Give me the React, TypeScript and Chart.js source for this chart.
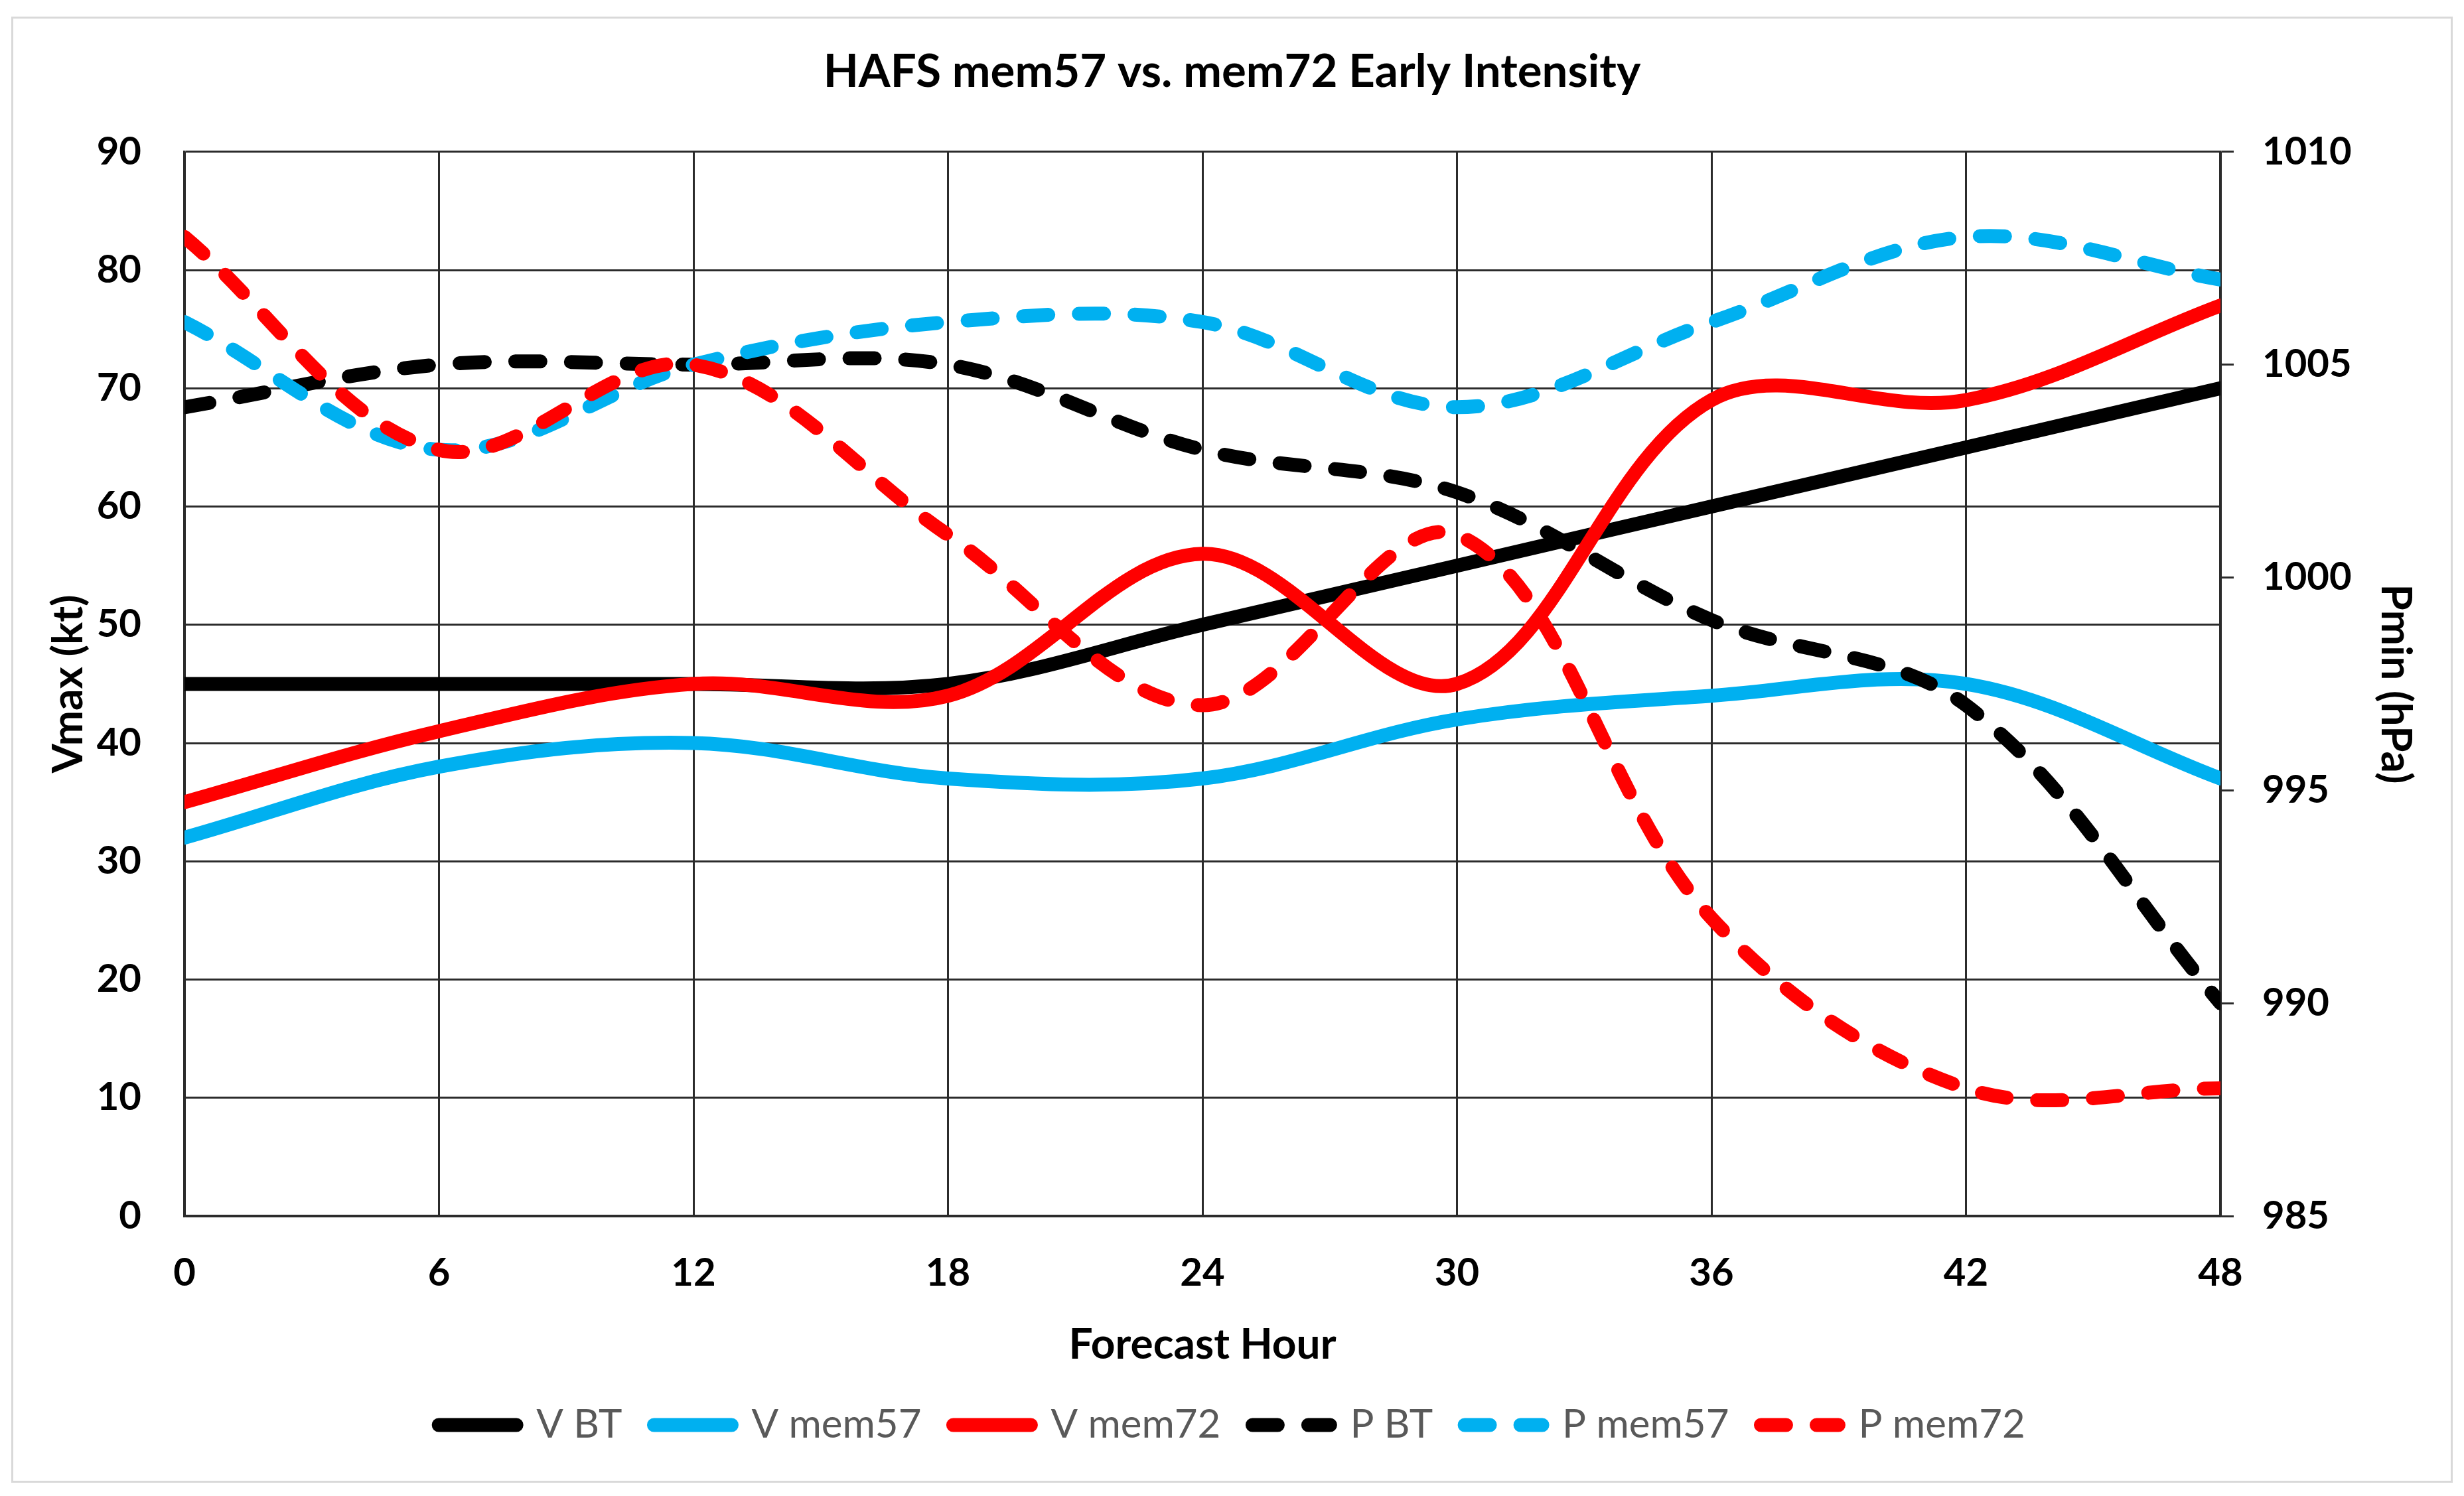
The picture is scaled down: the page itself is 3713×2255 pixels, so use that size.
import React, { useEffect, useRef } from 'react';
import { Chart, registerables } from 'chart.js';

Chart.register(...registerables);

// ---- data ----
const hours = [0, 6, 12, 18, 24, 30, 36, 42, 48];
const vBT = [45, 45, 45, 45, 50, 55, 60, 65, 70];
const vMem57 = [32, 38, 40, 37, 37, 42, 44, 45, 37];
const vMem72 = [35, 41, 45, 44, 56, 45, 69, 69, 77];
const pBT = [1004, 1005, 1005, 1005, 1003, 1002, 999, 997, 990];
const pMem57 = [1006, 1003, 1005, 1006, 1006, 1004, 1006, 1008, 1007];
const pMem72 = [1008, 1003, 1005, 1001, 997, 1001, 992, 988, 988];

const seriesLabels = ['V BT', 'V mem57', 'V mem72', 'P BT', 'P mem57', 'P mem72'];
const titleText = 'HAFS mem57 vs. mem72 Early Intensity';
const xTitle = 'Forecast Hour';
const yLeftTitle = 'Vmax (kt)';
const yRightTitle = 'Pmin (hPa)';

const BLACK = '#000000';
const BLUE = '#00B0F0';
const RED = '#FF0000';
const GRID = '#2b2b2b';
const FONT = 'Lato';

export default function App() {
  const ref = useRef<HTMLCanvasElement>(null);

  useEffect(() => {
    document.body.style.margin = '0';
    const canvas = ref.current;
    if (!canvas) return;

    const mk = (label: string, vals: number[], color: string, axis: string, dashed: boolean, idx: number) => ({
      label,
      data: hours.map((h, i) => ({ x: h, y: vals[i] })),
      yAxisID: axis,
      borderColor: color,
      backgroundColor: color,
      borderWidth: 21,
      borderDash: dashed ? [38, 46] : [],
      borderCapStyle: 'round',
      borderJoinStyle: 'round',
      pointRadius: 0,
      pointHoverRadius: 0,
      tension: 0.35,
      fill: false,
      order: 5 - idx,
    });

    const datasets = [
      mk(seriesLabels[0], vBT, BLACK, 'yV', false, 0),
      mk(seriesLabels[1], vMem57, BLUE, 'yV', false, 1),
      mk(seriesLabels[2], vMem72, RED, 'yV', false, 2),
      mk(seriesLabels[3], pBT, BLACK, 'yP', true, 3),
      mk(seriesLabels[4], pMem57, BLUE, 'yP', true, 4),
      mk(seriesLabels[5], pMem72, RED, 'yP', true, 5),
    ];

    const tickFont = { family: FONT, size: 58, weight: 'bold' as const };
    const axisTitleFont = { family: FONT, size: 64, weight: 'bold' as const };

    const chart = new Chart(canvas, {
      type: 'line',
      data: { datasets: datasets as any },
      options: {
        animation: false,
        responsive: true,
        maintainAspectRatio: false,
        devicePixelRatio: 1,
        layout: { padding: { top: 0, left: 0, right: 0, bottom: 44 } },
        plugins: {
          title: {
            display: true,
            text: titleText,
            color: '#000',
            font: { family: FONT, size: 69, weight: 'bold' },
            padding: { top: 39, bottom: 79 },
          },
          legend: {
            display: true,
            position: 'bottom',
            labels: {
              usePointStyle: true,
              pointStyleWidth: 117,
              padding: 48,
              color: '#595959',
              font: { family: FONT, size: 60 },
              generateLabels: (c: any) =>
                c.data.datasets.map((ds: any, i: number) => ({
                  text: ds.label,
                  fillStyle: ds.borderColor,
                  strokeStyle: ds.borderColor,
                  lineWidth: ds.borderWidth,
                  lineDash: ds.borderDash || [],
                  lineCap: 'round',
                  lineJoin: 'round',
                  pointStyle: 'line',
                  datasetIndex: i,
                  hidden: false,
                  fontColor: '#595959',
                })),
            },
          },
          tooltip: { enabled: false },
        },
        scales: {
          x: {
            type: 'linear',
            min: 0,
            max: 48,
            ticks: { stepSize: 6, color: '#000', font: tickFont, padding: 51, callback: (v: any) => String(v) },
            grid: { color: GRID, lineWidth: 3, drawTicks: false },
            border: { display: true, color: GRID, width: 3.5 },
            title: { display: true, text: xTitle, color: '#000', font: axisTitleFont, padding: { top: 0, bottom: 4 } },
            afterFit: (s: any) => { s.height = 237; },
          },
          yV: {
            type: 'linear',
            position: 'left',
            min: 0,
            max: 90,
            ticks: { stepSize: 10, color: '#000', font: tickFont, padding: 65, callback: (v: any) => String(v) },
            grid: { color: GRID, lineWidth: 3, drawTicks: false },
            border: { display: true, color: GRID, width: 3.5 },
            title: { display: true, text: yLeftTitle, color: '#000', font: axisTitleFont, padding: { top: 45, bottom: 0 } },
            afterFit: (s: any) => { s.width = 258; },
          },
          yP: {
            type: 'linear',
            position: 'right',
            min: 985,
            max: 1010,
            ticks: { stepSize: 5, color: '#000', font: tickFont, padding: 43, callback: (v: any) => String(v) },
            grid: { drawOnChartArea: false, drawTicks: true, tickLength: 20, tickColor: GRID, tickWidth: 3, color: GRID, lineWidth: 3 },
            border: { display: true, color: GRID, width: 3.5 },
            title: { display: true, text: yRightTitle, color: '#000', font: axisTitleFont, padding: { top: 45, bottom: 0 } },
            afterFit: (s: any) => { s.width = 347; },
          },
        },
      } as any,
    });

    return () => chart.destroy();
  }, []);

  return (
    <div style={{ position: 'relative', width: 3713, height: 2255, background: '#ffffff', overflow: 'hidden' }}>
      <div
        style={{
          position: 'absolute',
          left: 17,
          top: 25,
          width: 3679,
          height: 2210,
          border: '3px solid #d9d9d9',
          boxSizing: 'border-box',
          background: '#ffffff',
        }}
      >
        <div style={{ position: 'relative', width: '100%', height: '100%' }}>
          <canvas ref={ref} />
        </div>
      </div>
    </div>
  );
}
